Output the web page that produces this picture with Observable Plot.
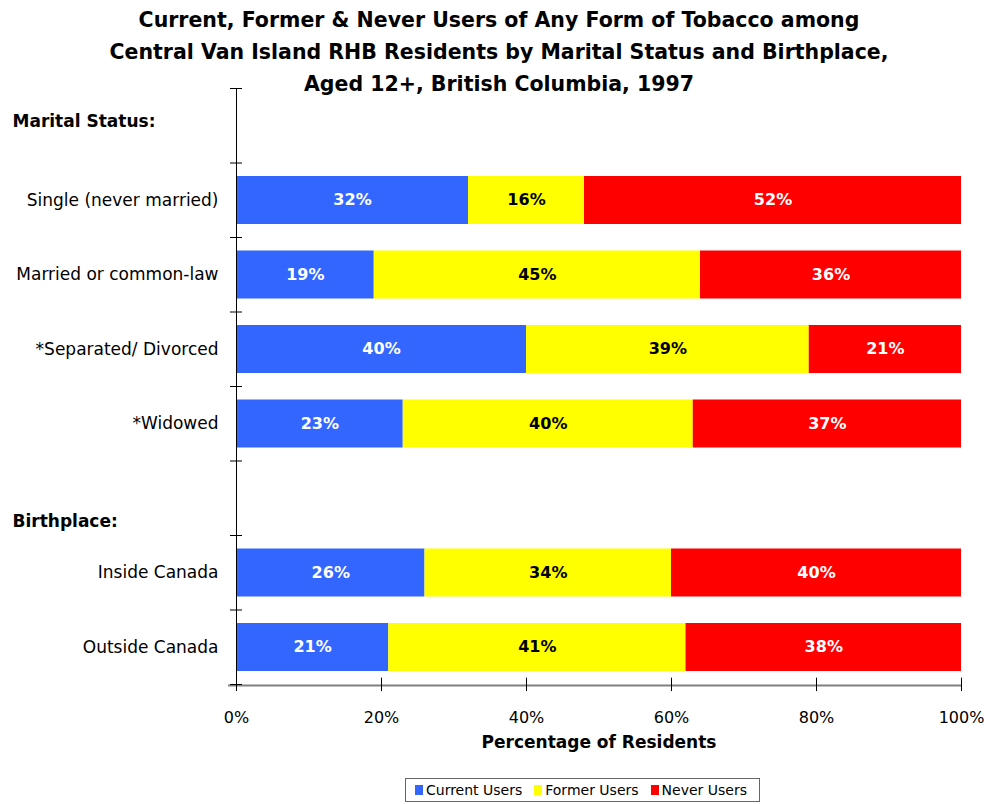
<!DOCTYPE html>
<html>
<head>
<meta charset="utf-8">
<script src="https://cdn.jsdelivr.net/npm/d3@7"></script>
<script src="https://cdn.jsdelivr.net/npm/@observablehq/plot@0.6"></script>
<style>
  body { margin: 0; background: #fff; }
  #wrap { position: relative; width: 987px; height: 804px; font-family: "DejaVu Sans", sans-serif; }
  #title { position: absolute; top: 4px; left: 0; width: 998px; text-align: center;
    font-family: "DejaVu Sans", sans-serif; font-weight: bold; font-size: 20.5px; line-height: 32px; color: #000; }
  #chart { position: absolute; top: 0; left: 0; }
  #legend { position: absolute; top: 778px; left: 405px; width: 353px; height: 22px; border: 1px solid #666;
    display: flex; align-items: center; justify-content: flex-start; box-sizing: content-box;
    gap: 12px; font-size: 14px; font-family: "DejaVu Sans", sans-serif; }
  #legend span.item { display: inline-flex; align-items: center; }
  #legend span.item:first-child { margin-left: 9px; }
  #legend span.sw { display: inline-block; width: 8px; height: 10px; margin-right: 3px; }
</style>
</head>
<body>
<div id="wrap">
  <div id="chart"></div>
  <div id="title">Current, Former &amp; Never Users of Any Form of Tobacco among<br>Central Van Island RHB Residents by Marital Status and Birthplace,<br>Aged 12+, British Columbia, 1997</div>
  <div id="legend"></div>
</div>
<script>
const rows = ["Marital Status:", "Single (never married)", "Married or common-law", "*Separated/ Divorced", "*Widowed", "Birthplace:", "Inside Canada", "Outside Canada"];
const categories = ["Single (never married)", "Married or common-law", "*Separated/ Divorced", "*Widowed", "Inside Canada", "Outside Canada"];
const currentUsers = [32, 19, 40, 23, 26, 21];
const formerUsers = [16, 45, 39, 40, 34, 41];
const neverUsers = [52, 36, 21, 37, 40, 38];
const seriesNames = ["Current Users", "Former Users", "Never Users"];
const seriesColors = ["#3366FF", "#FFFF00", "#FF0000"];
const labelColors = ["#fff", "#000", "#fff"];
const xTicks = [0, 20, 40, 60, 80, 100];

const seriesValues = [currentUsers, formerUsers, neverUsers];
const table = [];
categories.forEach((c, i) => {
  let acc = 0;
  seriesValues.forEach((vals, s) => {
    const v = vals[i];
    table.push({category: c, row: rows.indexOf(c), series: seriesNames[s], value: v, x1: acc, x2: acc + v, si: s});
    acc += v;
  });
});
const boundaries = d3.range(rows.length + 1);

const chart = Plot.plot({
  width: 987,
  height: 770,
  marginTop: 88,
  marginLeft: 236,
  marginRight: 26,
  marginBottom: 86,
  style: {fontFamily: "DejaVu Sans, sans-serif", fontSize: "16px", background: "transparent"},
  x: {domain: [0, 100], axis: null},
  y: {domain: [rows.length, 0], axis: null},
  color: {domain: seriesNames, range: seriesColors},
  marks: [
    Plot.rectX(table, {x1: "x1", x2: "x2", y1: "row", y2: d => d.row + 1, insetTop: 13.5, insetBottom: 13, fill: "series"}),
    Plot.text(table, {x: d => (d.x1 + d.x2) / 2, y: d => d.row + 0.5, text: d => d.value + "%",
      fill: d => labelColors[d.si], fontWeight: "bold", fontSize: 16}),
    // x axis line (gray)
    Plot.ruleY([rows.length], {x1: -1.1, x2: 100, stroke: "#808080", strokeWidth: 2, dy: 1}),
    // y axis line
    Plot.ruleX([0], {y1: 0, y2: rows.length, stroke: "#000", strokeWidth: 1}),
    // y ticks at band boundaries, crossing
    Plot.ruleY(boundaries, {y: d => d, x1: -0.83, x2: 0.83, stroke: "#000"}),
    // x ticks, crossing
    Plot.ruleX(xTicks, {x: d => d, y1: rows.length - 0.085, y2: rows.length + 0.095, stroke: "#000"}),
    // x tick labels
    Plot.text(xTicks, {x: d => d, frameAnchor: "bottom", dy: 38, text: d => d + "%", fontSize: 16, fill: "#000"}),
    Plot.text(["Percentage of Residents"], {frameAnchor: "bottom", dy: 63, fontWeight: "bold", fontSize: 17, fill: "#000"}),
    // category labels
    Plot.text(categories, {y: d => rows.indexOf(d) + 0.5, frameAnchor: "left", dx: -18, textAnchor: "end", fontSize: 17, fill: "#000"}),
    // group headers
    Plot.text(["Marital Status:"], {y: d => rows.indexOf(d) + 0.44, frameAnchor: "left", dx: -224, textAnchor: "start", fontWeight: "bold", fontSize: 17, fill: "#000"}),
    Plot.text(["Birthplace:"], {y: d => rows.indexOf(d) + 0.81, frameAnchor: "left", dx: -224, textAnchor: "start", fontWeight: "bold", fontSize: 17, fill: "#000"})
  ]
});
document.getElementById("chart").appendChild(chart);

const legend = document.getElementById("legend");
seriesNames.forEach((n, i) => {
  const item = document.createElement("span");
  item.className = "item";
  const sw = document.createElement("span");
  sw.className = "sw";
  sw.style.background = seriesColors[i];
  item.appendChild(sw);
  item.appendChild(document.createTextNode(n));
  legend.appendChild(item);
});
</script>
</body>
</html>
